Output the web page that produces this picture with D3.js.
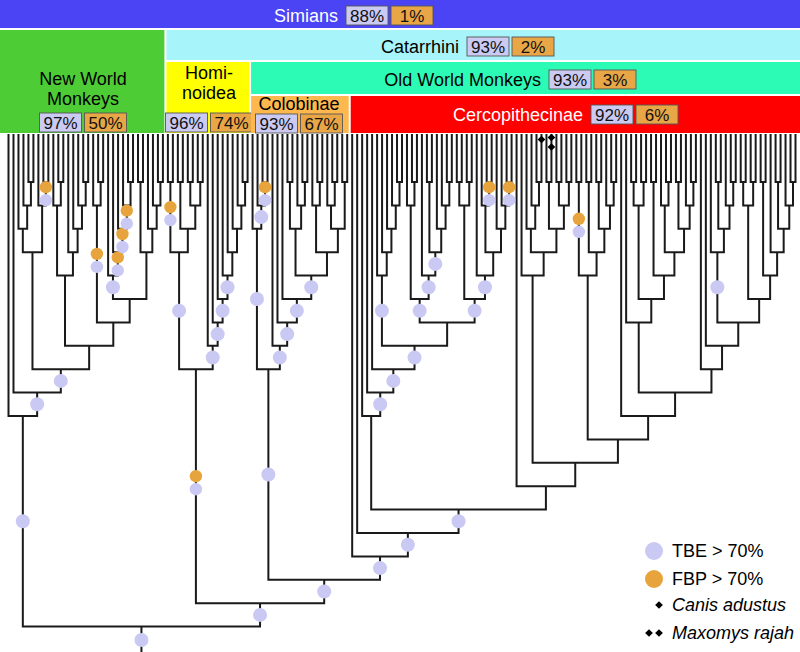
<!DOCTYPE html>
<html><head><meta charset="utf-8">
<script src="https://cdn.jsdelivr.net/npm/d3@7"></script>
<style>body{margin:0;background:#fff}svg{display:block}text{font-family:"Liberation Sans",Arial,sans-serif}</style>
</head><body><svg id="c" width="800" height="652"></svg>
<script>
// ---------- DATA ----------
// Tree topology (Newick-like): x = leaf, tag b = TBE>70%, f = TBE+FBP>70%, c = Canis adustus, m = Maxomys rajah
const nwmC = "((x,(x,(x,x))),(x,(x,x)f))";
const nwmE = "((x,(x,x)),(x,(x,(x,(x,x)))))";
const nwmF = "((x,(x,x))f,((x,(x,(x,(x,(x,x))f)f)f)b,((x,x),(x,(x,(x,x))))))";
const homK = "((x,x)f,((x,x),((x,x),(x,x))))b";
const homM = "(x,(x,(x,(x,(x,(x,(x,(x,x)))))b)b)b)b";
const col1 = "(x,(x,(x,x)f)b)b";
const colN = "(((x,x),(x,(x,x))),((x,(x,x)),((x,(x,x)),(x,x))))b";
const cerU = "(x,(x,(x,(x,(x,x)))))b";
const cerX = "((x,(x,x)),(x,((x,x),(x,(x,(x,x))))b)b)b";
const cerY = "(((x,x),(x,x)),(x,((x,(x,x)f),(x,(x,(x,x)f))))b)b";
const cerN534 = "(x,((x,(x,(x,xc))),((x,xm),((x,x),(x,x)))))";
const cerN588 = "((x,x)f,((x,x),((x,x),(x,(x,x)))))";
const cerZ2 = "(((x,x),(x,x)),((x,x),((x,(x,x)),((x,x),(x,(x,x))))))";
const cerN719 = "(x,((x,x),(x,(x,x))))b";
const cerC6 = "(((x,x),(x,x)),((x,x),(x,((x,x),(x,(x,x))))))";

const cladeNames = ["Simians","Catarrhini","New World Monkeys","Hominoidea","Old World Monkeys","Colobinae","Cercopithecinae"];
const cladeLines = [["Simians"],["Catarrhini"],["New World","Monkeys"],["Homi-","noidea"],["Old World Monkeys"],["Colobinae"],["Cercopithecinae"]];
const cladeTBE = ["88%","93%","97%","96%","93%","93%","92%"];
const cladeFBP = ["1%","2%","50%","74%","3%","67%","6%"];
const cladeFirstLeaf = [0,32,0,32,49,49,69];
const cladeLastLeaf = [158,158,31,48,158,68,158];
const cladeRowFrom = [0,1,1,2,2,3,3];
const cladeRowTo = [0,1,3,3,2,3,3];
const cladeColors = ["#4a44f4","#a8f4fb","#4ecc35","#ffff00","#2cfbb6","#ffb84e","#ff0000"];
const cladeTextColors = ["#ffffff","#000","#000","#000","#000","#000","#ffffff"];

const legendLabels = ["TBE > 70%","FBP > 70%","Canis adustus","Maxomys rajah"];

// ---------- BUILD TREE ----------
const cerco = (() => {
  const T = `(${cerU},(${cerX},${cerY}))b`;
  const P = `(x,(x,(x,${T})b)b)`;
  const C7 = `(${cerN719},${cerC6})`;
  const C10 = `((x,${cerZ2}),(x,(x,${C7})))`;
  const C13 = `(${cerN534},(${cerN588},(x,${C10})))`;
  return `(x,(x,(${P},(x,${C13}))b)b)b`;
})();
const nwm = `(x,(x,(${nwmC},(${nwmE},${nwmF}))b)b)b`;
const hom = `(${homK},${homM})f`;
const col = `(${col1},(x,(x,(x,${colN})b)b)b)b`;
const treeNewick = `(${nwm},(${hom},(${col},${cerco})b)b)b`;

function parseNewick(s){
  let i=0;
  function node(){
    const n={};
    if(s[i]==='('){
      i++; n.children=[node()];
      while(s[i]===','){i++; n.children.push(node());}
      i++;
    } else { i++; }
    let tag=''; while(i<s.length && /[a-z]/.test(s[i])) tag+=s[i++];
    n.tag=tag; return n;
  }
  return node();
}

// ---------- DRAW ----------
const W=800,H=652;
const svg=d3.select("#c");
const root=d3.hierarchy(parseNewick(treeNewick));
const leaves=root.leaves();
const N=leaves.length;
const x=d3.scaleLinear().domain([0,N-1]).range([8.5,795.5]);
const y=d3.scaleLinear().domain([1,20]).range([182,626.6]);
const tipTop=134;
leaves.forEach((l,i)=>{l.x=x(i);});
root.eachAfter(n=>{ if(n.children){ n.x=d3.mean(n.children,c=>c.x); n.y=y(n.height);} else n.y=tipTop; });

// header
const rowTop=[0,30,62,96], rowBot=[28,60,94,133];
const bx=i=> i<=0?0:(i>=N?W:(x(i-1)+x(i))/2);
const hdr=svg.append("g");
const labelLayout = {
  0:{mode:"inline",box:346,by:6},
  1:{mode:"inline",box:467,by:37},
  4:{mode:"inline",box:549,by:70},
  6:{mode:"inline",box:591,by:105},
  2:{mode:"stack",cx:83,ty:[85,105],by:113},
  3:{mode:"stack",cx:209,ty:[79,99],by:113},
  5:{mode:"stack",cx:299,ty:[110],by:114}
};
const bw=42,bh=19;
cladeNames.forEach((name,k)=>{
  const f=cladeFirstLeaf[k], l=cladeLastLeaf[k];
  const x0=bx(f)+(f>0?1:0), x1=bx(l+1)-(l<N-1?1:0);
  const y0=rowTop[cladeRowFrom[k]], y1=rowBot[cladeRowTo[k]];
  hdr.append("rect").attr("x",x0).attr("y",y0).attr("width",x1-x0).attr("height",y1-y0).attr("fill",cladeColors[k]);
  const L=labelLayout[k];
  let b1x, b1y=L.by;
  if(L.mode==="inline"){
    b1x=L.box;
    hdr.append("text").attr("x",b1x-8).attr("y",b1y+15.5).attr("text-anchor","end")
      .attr("font-size",18).attr("fill",cladeTextColors[k]).text(cladeLines[k][0]);
  } else {
    b1x=L.cx-bw-1.5;
    cladeLines[k].forEach((t,j)=>{
      hdr.append("text").attr("x",L.cx).attr("y",L.ty[j]).attr("text-anchor","middle")
        .attr("font-size",18).attr("fill",cladeTextColors[k]).text(t);
    });
  }
  const vals=[cladeTBE[k],cladeFBP[k]], fills=["#cacaf3","#e8a647"];
  vals.forEach((v,j)=>{
    const xx=b1x+j*(bw+3);
    hdr.append("rect").attr("x",xx).attr("y",b1y).attr("width",bw).attr("height",bh)
      .attr("fill",fills[j]).attr("stroke","#555").attr("stroke-width",0.9);
    hdr.append("text").attr("x",xx+bw/2).attr("y",b1y+15.5).attr("text-anchor","middle")
      .attr("font-size",17).attr("fill","#111").text(v);
  });
});

// branches
const g=svg.append("g").attr("fill","none").attr("stroke","#1a1a1a").attr("stroke-width",2);
root.descendants().filter(n=>n.children).forEach(n=>{
  const cs=n.children;
  let d=`M${cs[0].x},${cs[0].y}V${n.y}H${cs[cs.length-1].x}V${cs[cs.length-1].y}`;
  for(let j=1;j<cs.length-1;j++) d+=`M${cs[j].x},${cs[j].y}V${n.y}`;
  g.append("path").attr("d",d);
});
g.append("path").attr("d",`M${root.x},${root.y}V${H}`);

// support dots
const blue="#c9c9f4", orange="#e8a43c";
const dg=svg.append("g");
root.each(n=>{
  const t=n.data.tag;
  if(!/[bf]/.test(t)) return;
  const py=n.parent?n.parent.y:n.y+26.8;
  const mid=(n.y+py)/2;
  const shift = (py-n.y)>60 ? -3.5 : 0;
  if(t.includes("f")){
    dg.append("circle").attr("cx",n.x).attr("cy",mid+shift-6.5).attr("r",6.2).attr("fill",orange);
    dg.append("circle").attr("cx",n.x).attr("cy",mid+shift+6.5).attr("r",6.2).attr("fill",blue);
  } else {
    dg.append("circle").attr("cx",n.x).attr("cy",mid).attr("r",7).attr("fill",blue);
  }
});

// leaf markers
const diamond=d3.symbol(d3.symbolSquare,30);
leaves.forEach(l=>{
  const t=l.data.tag;
  const ys = t.includes("c")?[tipTop+5.5]: t.includes("m")?[tipTop+3.5,tipTop+13]:[];
  ys.forEach(yy=>dg.append("path").attr("d",diamond()).attr("fill","#000")
    .attr("transform",`translate(${l.x},${yy}) rotate(45)`));
});

// legend
const lg=svg.append("g");
const lgY=[551,579,605,633];
lg.append("circle").attr("cx",654).attr("cy",lgY[0]).attr("r",9).attr("fill",blue);
lg.append("circle").attr("cx",654).attr("cy",lgY[1]).attr("r",9).attr("fill",orange);
lg.append("path").attr("d",diamond()).attr("transform",`translate(659,${lgY[2]}) rotate(45)`).attr("fill","#000");
[649,659].forEach(xx=>lg.append("path").attr("d",diamond()).attr("transform",`translate(${xx},${lgY[3]}) rotate(45)`).attr("fill","#000"));
legendLabels.forEach((t,i)=>{
  lg.append("text").attr("x",672).attr("y",lgY[i]+6).attr("font-size",18)
    .attr("font-style",i>=2?"italic":"normal").attr("fill","#000").text(t);
});
</script></body></html>
